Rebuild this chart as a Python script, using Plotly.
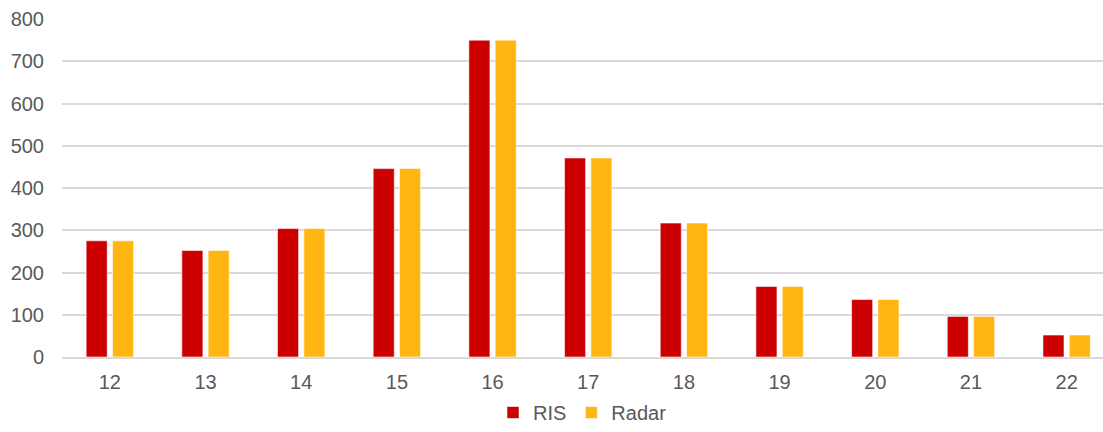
import plotly.graph_objects as go

categories = ["12", "13", "14", "15", "16", "17", "18", "19", "20", "21", "22"]
ris = [275, 252, 304, 446, 750, 471, 317, 167, 136, 96, 52]
radar = [275, 252, 304, 446, 750, 471, 317, 167, 136, 96, 52]
y_ticks = [0, 100, 200, 300, 400, 500, 600, 700, 800]

FONT = "Liberation Sans, Arial, sans-serif"
TEXT = "#595959"
SIZE = 20

fig = go.Figure()
fig.add_trace(go.Bar(
    name="RIS", x=categories, y=ris,
    marker=dict(color="#CC0000", line=dict(color="rgba(255,255,255,0.55)", width=1)),
))
fig.add_trace(go.Bar(
    name="Radar", x=categories, y=radar,
    marker=dict(color="#FFB612", line=dict(color="rgba(255,255,255,0.55)", width=1)),
))

fig.update_layout(
    width=1103, height=432,
    margin=dict(l=62, r=0, t=19, b=75, autoexpand=False),
    paper_bgcolor="white", plot_bgcolor="white",
    barmode="group", bargap=0.45, bargroupgap=0.2,
    font=dict(family=FONT, size=SIZE, color=TEXT),
    showlegend=True,
    legend=dict(
        orientation="h", x=0.5, xanchor="center",
        yref="container", y=0.0, yanchor="bottom",
        font=dict(family=FONT, size=SIZE, color=TEXT),
        itemwidth=30, tracegroupgap=0,
    ),
    xaxis=dict(
        type="category", range=[-0.5, 10.38],
        showgrid=False, showline=True, linecolor="#d9d9d9", linewidth=1.5,
        ticks="", ticklabelstandoff=6,
        tickfont=dict(family=FONT, size=SIZE, color=TEXT),
        fixedrange=True,
    ),
    yaxis=dict(
        range=[0, 800], tickvals=y_ticks,
        showgrid=True, gridcolor="#d9d9d9", gridwidth=1.5,
        zeroline=False, showline=False, ticks="", ticklabelstandoff=17,
        tickfont=dict(family=FONT, size=SIZE, color=TEXT),
        fixedrange=True,
    ),
)

fig.write_html("out.html")
